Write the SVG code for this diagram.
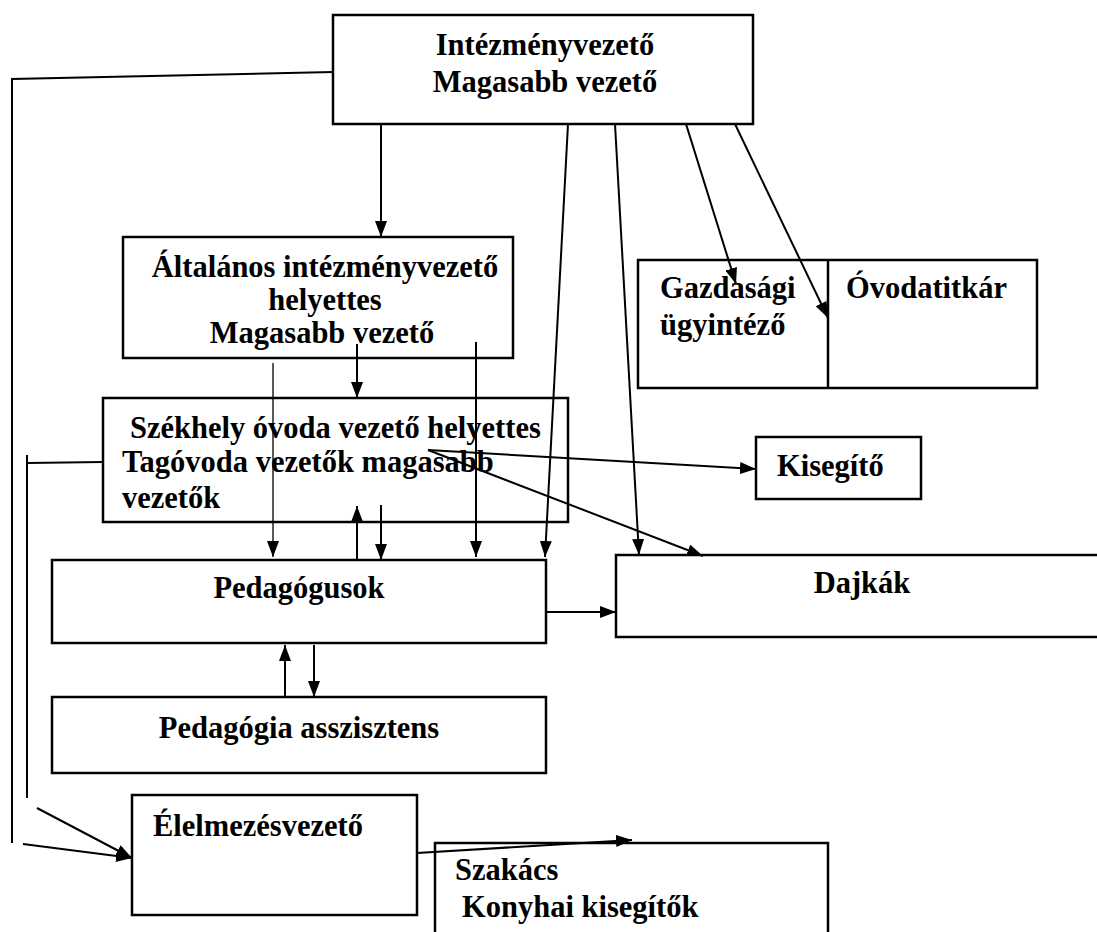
<svg xmlns="http://www.w3.org/2000/svg" width="1097" height="932" viewBox="0 0 1097 932">
<style>
.box{fill:none;stroke:#000;stroke-width:2.5}
.t{font-family:"Liberation Serif","Times New Roman",serif;font-weight:bold;font-size:30.5px;fill:#000}
.c{fill:none;stroke:#000;stroke-width:2}
.thin{fill:none;stroke:#000;stroke-width:1.3}
</style>
<defs>
<marker id="a" viewBox="0 0 16 12" refX="16" refY="6" markerWidth="16" markerHeight="12" markerUnits="userSpaceOnUse" orient="auto"><path d="M0,0 L16,6 L0,12 z" fill="#000"/></marker>
</defs>
<rect width="1097" height="932" fill="#fff"/>
<g id="connectors">
<polyline class="c" points="333,72 12,79 12,843"/>
<line class="c" x1="381" y1="124" x2="381" y2="237" marker-end="url(#a)"/>
<line class="c" x1="568" y1="124" x2="545" y2="557" marker-end="url(#a)"/>
<line class="c" x1="615" y1="124" x2="639" y2="555" marker-end="url(#a)"/>
<line class="c" x1="686" y1="124" x2="736" y2="284" marker-end="url(#a)"/>
<line class="c" x1="735" y1="124" x2="828" y2="318" marker-end="url(#a)"/>
<line class="c" x1="357" y1="344" x2="357" y2="398" marker-end="url(#a)"/>
<line class="thin" x1="273" y1="363" x2="273" y2="557" marker-end="url(#a)"/>
<line class="c" x1="476" y1="342" x2="476" y2="557" marker-end="url(#a)"/>
<line class="c" x1="27" y1="455" x2="27" y2="798"/>
<line class="c" x1="27" y1="463" x2="103" y2="462"/>
<line class="c" x1="357" y1="560" x2="357" y2="506" marker-end="url(#a)"/>
<line class="c" x1="381" y1="505" x2="381" y2="560" marker-end="url(#a)"/>
<line class="c" x1="428" y1="450" x2="756" y2="469" marker-end="url(#a)"/>
<line class="c" x1="428" y1="450" x2="703" y2="556" marker-end="url(#a)"/>
<line class="c" x1="546" y1="612" x2="616" y2="612" marker-end="url(#a)"/>
<line class="c" x1="285" y1="697" x2="285" y2="645" marker-end="url(#a)"/>
<line class="c" x1="314" y1="645" x2="314" y2="697" marker-end="url(#a)"/>
<line class="c" x1="37" y1="808" x2="132" y2="858" marker-end="url(#a)"/>
<line class="c" x1="23" y1="844" x2="132" y2="858" marker-end="url(#a)"/>
<line class="c" x1="417" y1="853" x2="632" y2="840" marker-end="url(#a)"/>
</g>
<g id="n1"><rect class="box" x="333" y="15" width="420" height="109"/>
<text class="t" x="545" y="55" text-anchor="middle">Intézményvezető</text>
<text class="t" x="545" y="92" text-anchor="middle">Magasabb vezető</text></g>
<g id="n2"><rect class="box" x="123" y="237" width="390" height="121"/>
<text class="t" x="325" y="277" text-anchor="middle">Általános intézményvezető</text>
<text class="t" x="325" y="310" text-anchor="middle">helyettes</text>
<text class="t" x="322" y="343" text-anchor="middle">Magasabb vezető</text></g>
<g id="n3"><rect class="box" x="638" y="260" width="399" height="128"/>
<line class="box" x1="828" y1="260" x2="828" y2="388"/>
<text class="t" x="660" y="298">Gazdasági</text>
<text class="t" x="660" y="335">ügyintéző</text>
<text class="t" x="846" y="298">Óvodatitkár</text></g>
<g id="n4"><rect class="box" x="103" y="398" width="465" height="124"/>
<text class="t" x="130" y="438">Székhely óvoda vezető helyettes</text>
<text class="t" x="122" y="472">Tagóvoda vezetők magasabb</text>
<text class="t" x="122" y="508">vezetők</text></g>
<g id="n5"><rect class="box" x="756" y="437" width="165" height="62"/>
<text class="t" x="777" y="476">Kisegítő</text></g>
<g id="n6"><rect class="box" x="52" y="560" width="494" height="83"/>
<text class="t" x="299" y="598" text-anchor="middle">Pedagógusok</text></g>
<g id="n7"><rect class="box" x="616" y="555" width="490" height="82"/>
<text class="t" x="862" y="593" text-anchor="middle">Dajkák</text></g>
<g id="n8"><rect class="box" x="52" y="697" width="494" height="76"/>
<text class="t" x="299" y="738" text-anchor="middle">Pedagógia asszisztens</text></g>
<g id="n9"><rect class="box" x="132" y="795" width="285" height="120"/>
<text class="t" x="153" y="836">Élelmezésvezető</text></g>
<g id="n10"><path class="box" d="M435,940 V843 H828 V940"/>
<text class="t" x="455" y="880">Szakács</text>
<text class="t" x="462" y="917">Konyhai kisegítők</text></g>
</svg>
